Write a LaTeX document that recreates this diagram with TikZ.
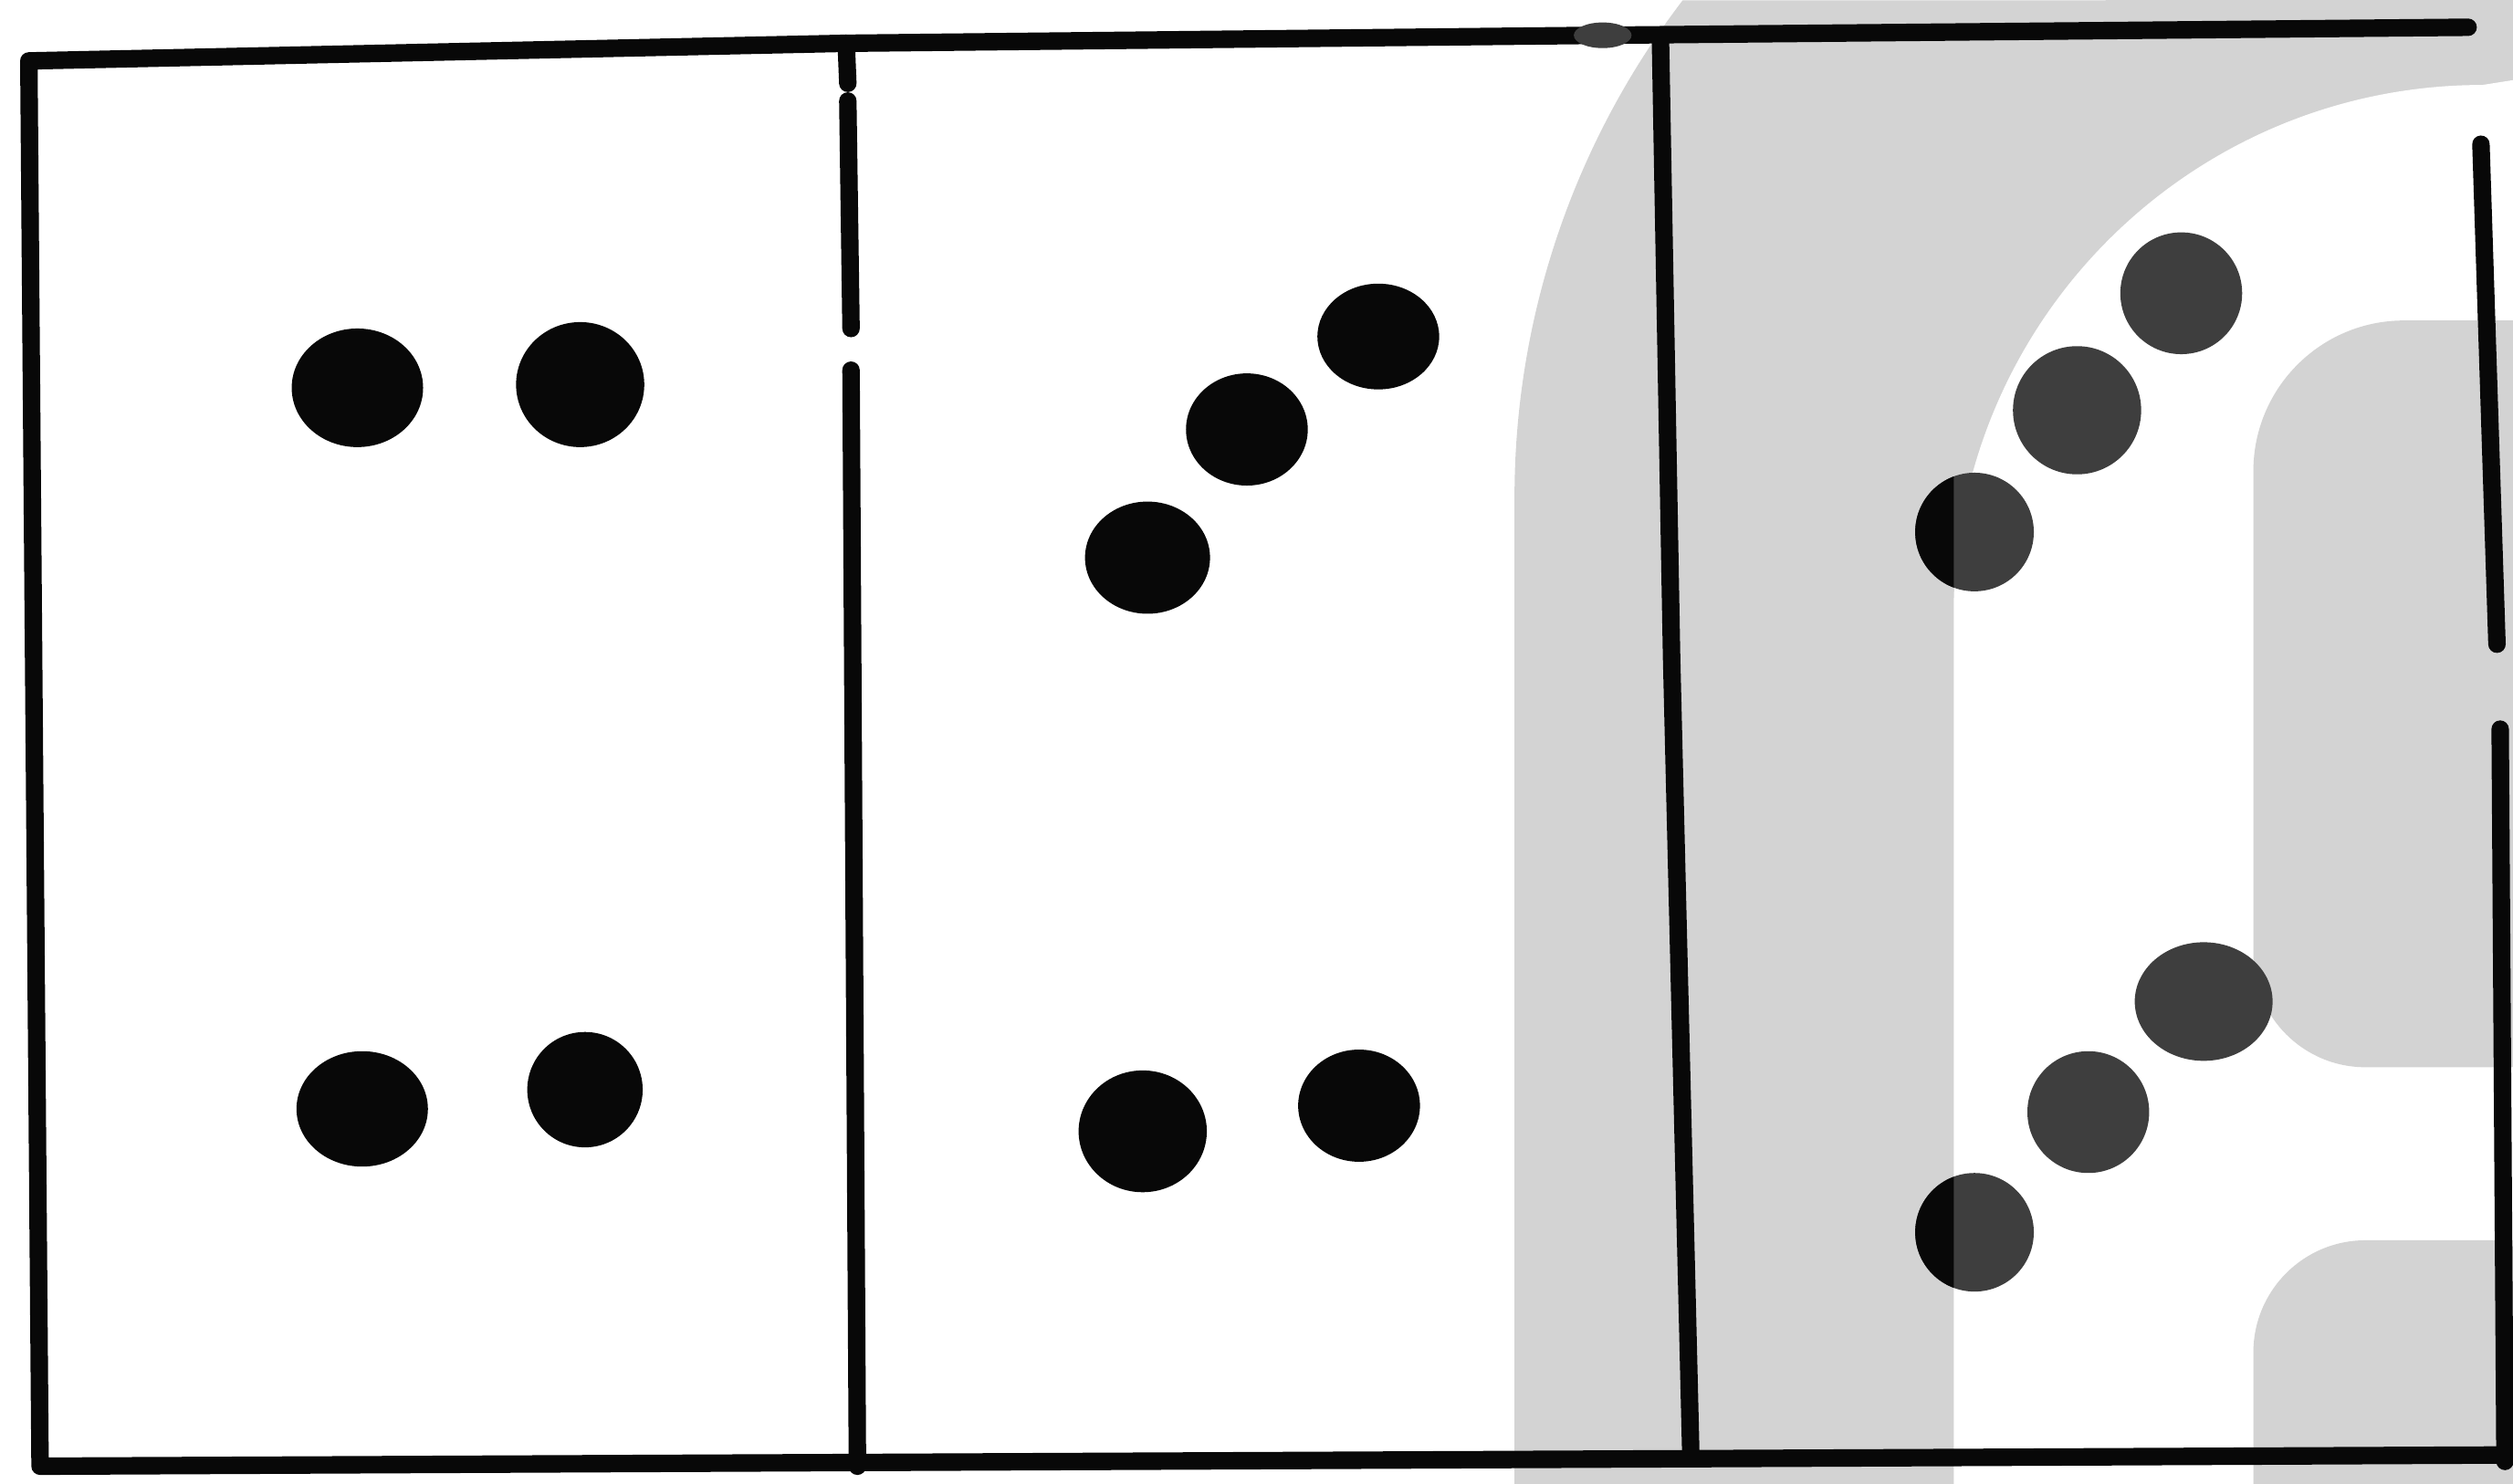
\documentclass[tikz,border=0pt]{standalone}
\definecolor{wm}{RGB}{211,211,211}
\definecolor{ink}{RGB}{8,8,8}
\definecolor{dimink}{RGB}{62,62,62}
\begin{document}
\begin{tikzpicture}[x=0.01cm,y=-0.01cm,
  frame/.style={line width=3.1pt, draw=ink, line cap=round, line join=round},
  dot/.style={fill=ink},
  dimdot/.style={fill=dimink}]
\useasboundingbox (0,0) rectangle (1568,926);
\fill[white] (0,0) rectangle (1568,926);
% watermark shapes
\fill[wm] (945,926) -- (945,310) arc[start angle=180, end angle=217.4, radius=510] -- (1568,0) -- (1568,926) -- cycle;
\fill[white] (1219,926) -- (1219,383) arc[start angle=180, end angle=270, radius=330] -- (1568,50) -- (1568,926) -- cycle;
\fill[wm] (1568,200) -- (1500,200) arc[start angle=270, end angle=180, radius=94] -- (1406,596) arc[start angle=180, end angle=90, radius=70] -- (1568,666) -- cycle;
\fill[wm] (1568,926) -- (1406,926) -- (1406,844) arc[start angle=180, end angle=270, radius=70] -- (1568,774) -- cycle;
% panel 1 dots
\fill[dot] (223,242) ellipse (41 and 37);
\fill[dot] (362,240) ellipse (40 and 39);
\fill[dot] (226,692) ellipse (41 and 36);
\fill[dot] (365,680) ellipse (36 and 36);
% panel 2 dots
\fill[dot] (716,348) ellipse (39 and 35);
\fill[dot] (778,268) ellipse (38 and 35);
\fill[dot] (860,210) ellipse (38 and 33);
\fill[dot] (713,706) ellipse (40 and 38);
\fill[dot] (848,690) ellipse (38 and 35);
% panel 3 dots
\fill[dimdot] (1232,332) ellipse (37 and 37);
\fill[dimdot] (1296,256) ellipse (40 and 40);
\fill[dimdot] (1361,183) ellipse (38 and 38);
\fill[dimdot] (1232,769) ellipse (37 and 37);
\fill[dimdot] (1303,694) ellipse (38 and 38);
\fill[dimdot] (1375,625) ellipse (43 and 37);
\begin{scope}
  \clip (945,0) rectangle (1219,926);
  \fill[dot] (1232,332) ellipse (37 and 37);
  \fill[dot] (1232,769) ellipse (37 and 37);
\end{scope}
% frame
\draw[frame] (1540,17) -- (1000,22) -- (528,27) -- (18,38) -- (25,915) -- (1560,908);
\draw[frame, line width=1.6pt] (20,40) -- (27,912);
\fill[dimink] (1000,22) ellipse (18 and 8);
\draw[frame] (528,27) -- (529,52);
\draw[frame] (529,63) -- (531,205);
\draw[frame] (531,231) -- (535,915);
\draw[frame] (1036,22) -- (1043,410) -- (1055,908);
\draw[frame] (1548,90) -- (1558,402);
\draw[frame] (1560,455) -- (1563,912);
\end{tikzpicture}
\end{document}
